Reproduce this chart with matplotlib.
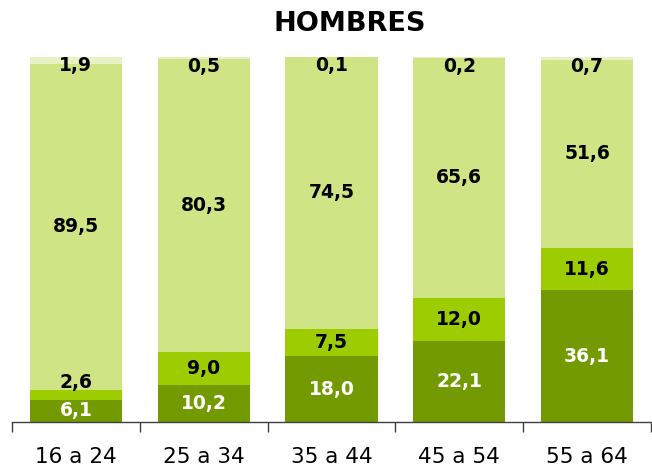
import matplotlib
matplotlib.use("Agg")
import matplotlib.pyplot as plt
import numpy as np

categories = ["16 a 24", "25 a 34", "35 a 44", "45 a 54", "55 a 64"]
serie_1 = [6.1, 10.2, 18.0, 22.1, 36.1]
serie_2 = [2.6, 9.0, 7.5, 12.0, 11.6]
serie_3 = [89.5, 80.3, 74.5, 65.6, 51.6]
serie_4 = [1.9, 0.5, 0.1, 0.2, 0.7]
title = "HOMBRES"

series = [serie_1, serie_2, serie_3, serie_4]
colors = ["#739A00", "#9DCC00", "#CFE585", "#E6F2C3"]
text_colors = ["white", "black", "black", "black"]

plt.rcParams['font.family'] = ['DejaVu Sans']

fig = plt.figure(figsize=(6.52, 4.72), dpi=100)
ax = fig.add_axes([12/652, 50/472, 639/652, 365/472])

x = np.arange(len(categories))
bottom = np.zeros(len(categories))
for i, (vals, col) in enumerate(zip(series, colors)):
    vals = np.array(vals)
    ax.bar(x, vals, bottom=bottom, width=0.72, color=col, edgecolor='none', zorder=2)
    for j in range(len(x)):
        v = vals[j]
        if i == len(series) - 1:
            y = bottom[j] + v - 2.5
        elif v < 5:
            y = bottom[j] + v + 2.0
        else:
            y = bottom[j] + v / 2
        ax.text(x[j], y, f"{v:.1f}".replace('.', ','), ha='center', va='center',
                fontsize=13.5, fontweight='bold', color=text_colors[i], zorder=3)
    bottom = bottom + vals

ax.set_xlim(-0.5, 4.5)
ax.set_ylim(0, 100)
ax.set_yticks([])
ax.set_xticks(x)
ax.set_xticklabels(categories, fontsize=15.5)
ax.tick_params(axis='x', which='major', length=0, pad=18)
ax.set_xticks(np.arange(-0.5, 5.0, 1.0), minor=True)
ax.tick_params(axis='x', which='minor', length=7, width=1, color='#404040', direction='out')
for s in ['top', 'right', 'left']:
    ax.spines[s].set_visible(False)
ax.spines['bottom'].set_color('#404040')
ax.spines['bottom'].set_linewidth(1)

fig.text(350/652, 1 - 24/472, title, ha='center', va='center', fontsize=19.5, fontweight='bold')

fig.savefig("out.png", dpi=100)
